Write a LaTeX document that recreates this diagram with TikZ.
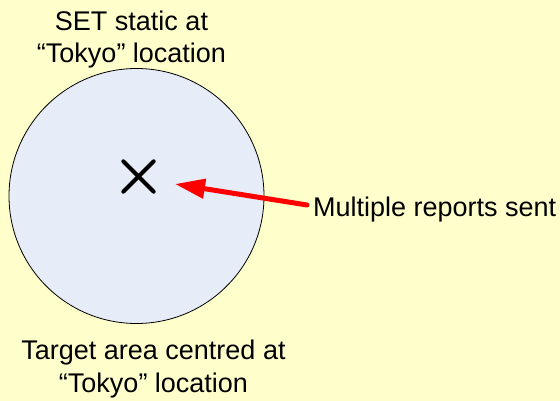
\documentclass[tikz,border=0pt]{standalone}
\usepackage{fontspec}
\setmainfont{Liberation Sans}
\usetikzlibrary{arrows.meta}
\definecolor{bgyellow}{HTML}{FFFFCC}
\definecolor{areablue}{HTML}{E6ECF8}
\tikzset{
  lbl/.style={font=\fontsize{27}{32.5}\selectfont, align=center, inner sep=0pt, text=black},
  area/.style={circle, draw=black, line width=0.8pt, fill=areablue, minimum size=255pt, inner sep=0pt},
  xmark/.style={line width=4pt, line cap=round, black},
  redarrow/.style={draw=red, line width=5pt, line cap=round, -{Triangle[length=30pt,width=19pt,fill=red]}}
}
\begin{document}
\begin{tikzpicture}[x=1pt,y=-1pt]
  \fill[bgyellow] (0,0) rectangle (560,401);
  \useasboundingbox (0,0) rectangle (560,401);
  \node[area] (circ) at (136.5,196) {};
  \node[minimum size=30pt, inner sep=0pt] (x) at (138.5,176.5) {};
  \draw[xmark] (x.north west) -- (x.south east);
  \draw[xmark] (x.south west) -- (x.north east);
  \node[lbl, anchor=base] (top) at (131.5,63) {SET static at\\“Tokyo” location};
  \node[lbl, anchor=base] (bot) at (153.5,392) {Target area centred at\\“Tokyo” location};
  \node[lbl, anchor=base west] (msg) at (313,217) {Multiple reports sent};
  \coordinate (tip) at (175,184);
  \coordinate (tail) at (307,205);
  \draw[redarrow] (tail) -- (tip);
\end{tikzpicture}
\end{document}
